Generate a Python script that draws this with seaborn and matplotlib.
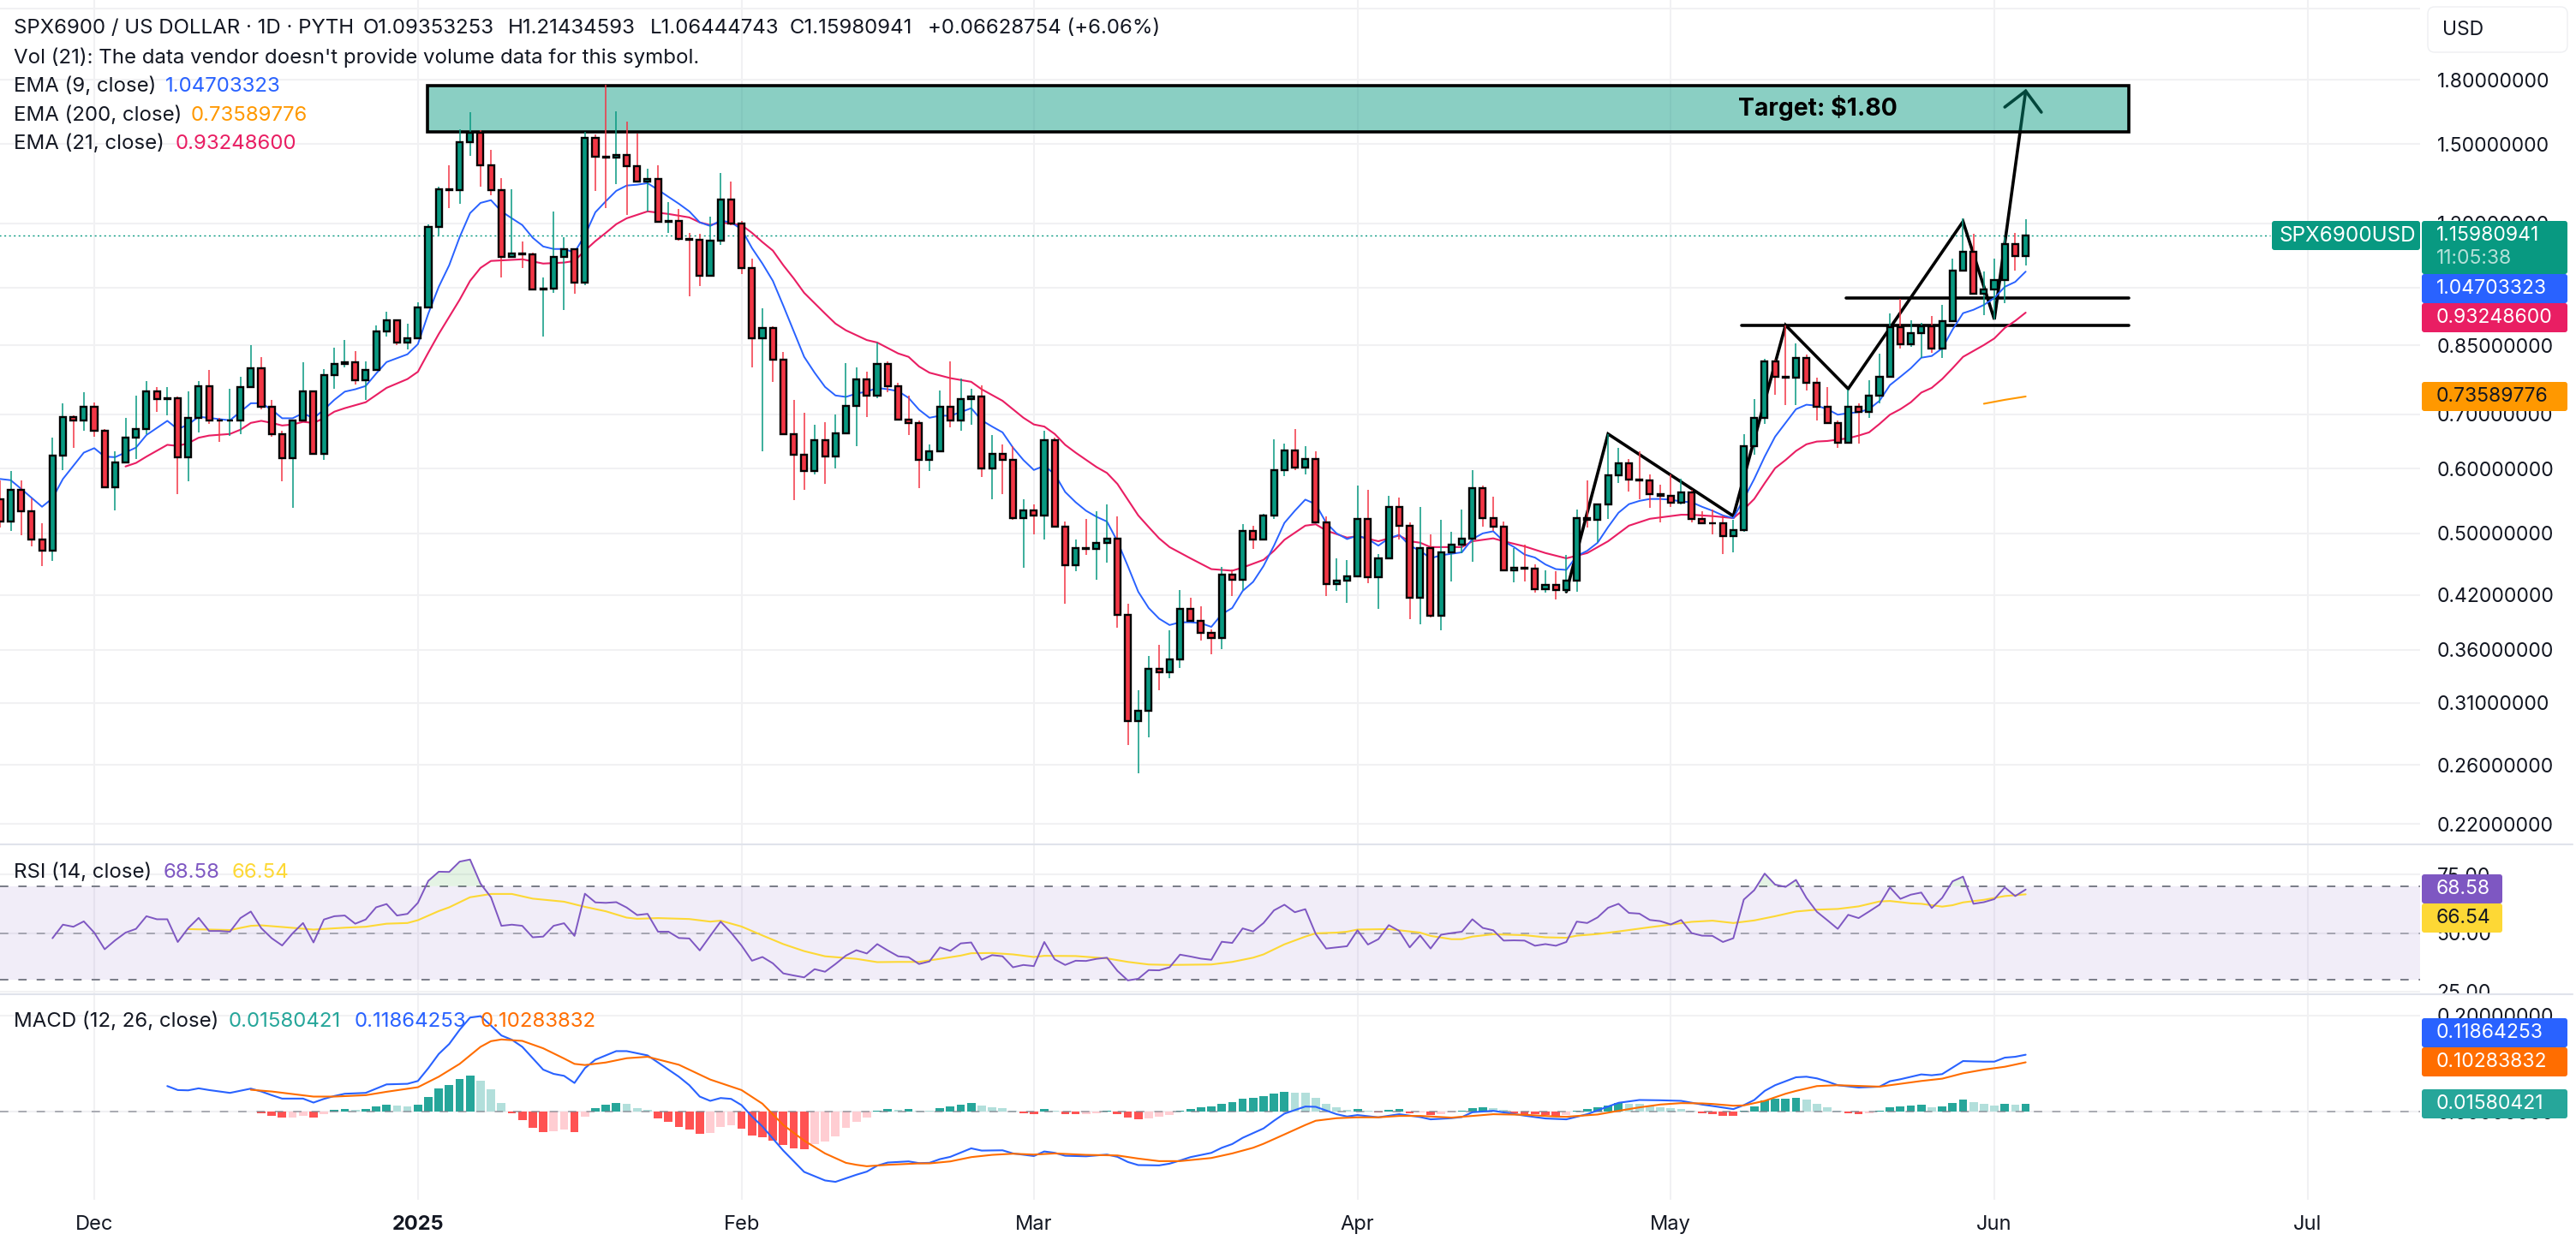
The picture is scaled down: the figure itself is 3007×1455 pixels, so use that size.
import numpy as np
import matplotlib
matplotlib.use("Agg")
import matplotlib.pyplot as plt
import matplotlib.transforms as mtransforms
from matplotlib.lines import Line2D
from matplotlib.patches import FancyBboxPatch, Rectangle
import seaborn as sns

# ---------------- DATA (x = days since 1 Dec 2024) ----------------
first_day = -9
first_open = 0.551
closes = [
    .517, .565, .532, .492, .476, .623, .695, .687, .714, .668,
    .569, .611, .655, .671, .746, .731, .733, .620, .693, .758,
    .688, .687, .688, .756, .797, .715, .662, .618, .688, .746,
    .626, .782, .807, .811, .771, .793, .885, .913, .857, .867,
    .946, 1.188, 1.322, 1.319, 1.509, 1.550, 1.414, 1.319, 1.092, 1.103,
    1.100, .996, .998, 1.092, 1.114, 1.015, 1.527, 1.449, 1.445, 1.456,
    1.410, 1.351, 1.360, 1.206, 1.209, 1.149, 1.146, 1.035, 1.143, 1.284,
    1.200, 1.058, .867, .893, .817, .662, .625, .596, .651, .622,
    .663, .717, .773, .738, .807, .758, .690, .683, .615, .631,
    .715, .688, .731, .735, .600, .626, .615, .522, .533, .526,
    .651, .509, .457, .480, .479, .487, .493, .397, .294, .303,
    .341, .338, .350, .404, .391, .378, .372, .445, .439, .503,
    .491, .526, .598, .632, .602, .617, .516, .433, .438, .443,
    .521, .442, .466, .539, .511, .417, .480, .396, .474, .484,
    .493, .568, .522, .510, .450, .454, .453, .427, .432, .426,
    .438, .522, .519, .543, .589, .610, .582, .580, .559, .556,
    .545, .561, .521, .515, .514, .496, .505, .640, .693, .813,
    .778, .776, .821, .764, .714, .683, .646, .715, .705, .737,
    .778, .896, .853, .880, .898, .843, .911, 1.050, 1.108, .984,
    .996, 1.023, 1.132, 1.0935, 1.1598,
]
highs = [
    .581, .596, .580, .552, .515, .655, .722, .697, .744, .724,
    .671, .631, .693, .737, .769, .756, .756, .735, .746, .769,
    .793, .693, .752, .778, .851, .823, .729, .668, .688, .811,
    .749, .795, .845, .864, .837, .813, .900, .935, .913, .904,
    .960, 1.197, 1.331, 1.414, 1.565, 1.642, 1.561, 1.477, 1.364, 1.322,
    1.141, 1.105, 1.030, 1.241, 1.154, 1.114, 1.554, 1.542, 1.774, 1.646,
    1.599, 1.546, 1.400, 1.414, 1.274, 1.250, 1.168, 1.165, 1.223, 1.383,
    1.351, 1.209, 1.087, .944, .898, .835, .729, .702, .680, .685,
    .700, .809, .799, .789, .857, .813, .765, .737, .687, .642,
    .749, .813, .774, .752, .760, .660, .643, .639, .551, .543,
    .668, .655, .517, .491, .521, .532, .543, .524, .410, .321,
    .354, .365, .380, .426, .417, .407, .381, .455, .451, .513,
    .511, .528, .652, .645, .671, .640, .631, .524, .466, .464,
    .572, .566, .472, .556, .553, .516, .539, .499, .520, .502,
    .535, .598, .572, .555, .517, .480, .484, .458, .450, .449,
    .470, .535, .580, .544, .662, .637, .617, .631, .591, .573,
    .590, .584, .565, .532, .535, .526, .519, .662, .731, .819,
    .817, .900, .855, .829, .776, .756, .688, .751, .722, .771,
    .831, .931, .969, .913, .906, .924, .953, 1.085, 1.218, 1.165,
    1.048, 1.087, 1.154, 1.168, 1.2143,
]
lows = [
    .508, .503, .497, .482, .456, .463, .598, .636, .668, .657,
    .569, .533, .610, .617, .662, .705, .697, .558, .579, .665,
    .681, .648, .659, .662, .758, .709, .657, .579, .538, .690,
    .626, .615, .752, .799, .762, .729, .795, .871, .851, .841,
    .869, .949, 1.160, 1.252, 1.269, 1.452, 1.331, 1.299, 1.030, 1.092,
    1.058, .996, .871, .986, .939, .984, 1.008, 1.315, 1.252, 1.341,
    1.229, 1.351, 1.241, 1.203, 1.168, 1.143, .976, 1.005, 1.033, 1.130,
    1.194, 1.040, .799, .631, .767, .662, .549, .566, .590, .575,
    .601, .665, .640, .695, .733, .744, .687, .660, .568, .596,
    .631, .675, .668, .680, .586, .550, .559, .519, .454, .499,
    .492, .509, .410, .449, .470, .439, .460, .383, .275, .254,
    .281, .321, .332, .342, .391, .369, .355, .361, .419, .426,
    .478, .490, .521, .587, .598, .591, .515, .419, .425, .411,
    .444, .434, .404, .467, .492, .392, .387, .394, .380, .437,
    .473, .461, .509, .503, .450, .435, .436, .423, .423, .415,
    .424, .424, .508, .488, .521, .576, .562, .551, .538, .516,
    .539, .542, .516, .513, .498, .472, .474, .502, .625, .681,
    .740, .719, .719, .749, .688, .683, .637, .646, .644, .693,
    .722, .780, .843, .847, .821, .833, .821, .913, 1.048, .984,
    .925, .915, .958, 1.050, 1.0644,
]

ema9_days = [
    -9, -8, -7, -5, -4, -3, -1, 0, 1, 2, 4, 5, 7, 8, 9, 10, 13, 15, 16, 17,
    18, 19, 20, 21, 22, 23, 24, 25, 26, 27, 28, 30, 31, 32, 33, 34, 35, 36, 37, 38,
    39, 40, 41, 42, 43, 44, 45, 46, 47, 48, 49, 50, 51, 52, 53, 54, 55, 56, 57, 58,
    59, 60, 61, 62, 63, 64, 65, 66, 67, 68, 69, 70, 71, 72, 73, 74, 75, 76, 77, 78,
    79, 80, 81, 82, 83, 84, 85, 86, 87, 88, 89, 90, 91, 92, 93, 94, 95, 96, 97, 98,
    99, 100, 101, 102, 103, 104, 105, 106, 107, 108, 109, 110, 111, 112, 113, 114, 115, 116, 117, 118,
    119, 120, 121, 122, 123, 124, 125, 126, 127, 128, 129, 130, 131, 132, 133, 134, 135, 136, 137, 138,
    139, 140, 141, 142, 143, 144, 145, 146, 147, 148, 149, 150, 151, 152, 153, 154, 155, 156, 157, 158,
    159, 160, 161, 162, 163, 164, 165, 166, 167, 168, 169, 170, 171, 172, 173, 174, 175, 176, 177, 178,
    179, 180, 181, 182, 183, 184, 185,
]
ema9_vals = [
    .583, .581, .567, .539, .552, .583, .628, .636, .621, .620, .637, .660, .687, .671, .680, .695, .688, .722, .722, .709,
    .692, .692, .702, .692, .709, .729, .746, .751, .758, .785, .811, .829, .853, .930, 1.003, 1.066, 1.154, 1.235, 1.271, 1.281,
    1.241, 1.217, 1.194, 1.152, 1.124, 1.116, 1.116, 1.105, 1.160, 1.238, 1.277, 1.315, 1.335, 1.338, 1.344, 1.319, 1.293, 1.268, 1.241, 1.203,
    1.191, 1.209, 1.203, 1.180, 1.119, 1.071, 1.020, .951, .885, .823, .787, .756, .738, .735, .742, .746, .754, .751, .747, .733,
    .709, .693, .697, .697, .704, .712, .688, .676, .665, .637, .615, .598, .605, .591, .562, .546, .533, .524, .517, .489,
    .456, .424, .405, .393, .386, .389, .389, .388, .384, .398, .405, .425, .436, .456, .483, .515, .533, .550, .543, .515,
    .500, .492, .497, .492, .483, .493, .498, .483, .476, .466, .470, .472, .474, .492, .500, .503, .489, .481, .471, .467,
    .458, .452, .451, .469, .476, .487, .509, .530, .543, .548, .551, .551, .550, .547, .546, .539, .533, .526, .522, .551,
    .583, .621, .657, .683, .710, .719, .717, .710, .699, .702, .704, .710, .727, .760, .778, .797, .821, .825, .843, .889,
    .931, .940, .953, .972, 1.003, 1.017, 1.047,
]
ema21_days = [
    3, 4, 5, 7, 8, 9, 10, 11, 13, 14, 15, 16, 17, 18, 19, 20, 21, 22, 23, 24,
    26, 28, 30, 31, 32, 33, 35, 36, 37, 38, 41, 43, 45, 46, 47, 48, 49, 50, 51, 53,
    55, 57, 58, 59, 60, 62, 63, 64, 65, 66, 67, 68, 70, 71, 72, 74, 75, 77, 78, 79,
    80, 82, 84, 85, 87, 89, 90, 91, 92, 93, 94, 96, 97, 98, 99, 100, 101, 102, 103, 105,
    107, 109, 110, 112, 113, 114, 116, 117, 118, 120, 121, 123, 125, 126, 127, 128, 131, 132, 134, 135,
    137, 139, 141, 143, 145, 147, 149, 152, 153, 155, 157, 158, 159, 160, 161, 162, 163, 164, 165, 166,
    168, 169, 170, 171, 172, 173, 174, 175, 176, 177, 178, 179, 180, 181, 182, 183, 184, 185,
]
ema21_vals = [
    .604, .610, .621, .642, .640, .645, .655, .659, .662, .670, .683, .687, .683, .678, .680, .685, .683, .692, .705, .712,
    .724, .754, .773, .789, .833, .878, .967, 1.020, 1.058, 1.079, 1.084, 1.071, 1.074, 1.079, 1.111, 1.141, 1.168, 1.197, 1.217, 1.241,
    1.232, 1.220, 1.203, 1.194, 1.203, 1.194, 1.168, 1.138, 1.111, 1.066, 1.027, .986, .930, .904, .887, .863, .857, .831, .823, .801,
    .787, .775, .767, .751, .727, .693, .680, .676, .662, .642, .628, .603, .593, .575, .550, .526, .509, .493, .481, .466,
    .452, .450, .454, .464, .476, .491, .511, .513, .504, .494, .496, .489, .497, .489, .487, .481, .481, .489, .493, .489,
    .482, .473, .466, .473, .489, .511, .521, .527, .527, .525, .522, .535, .551, .576, .601, .615, .631, .643, .648, .649,
    .654, .659, .665, .681, .699, .710, .724, .744, .754, .773, .797, .823, .837, .851, .867, .893, .911, .9325,
]
ema200_days = [181, 183, 185]
ema200_vals = [.721, .729, .7359]

rsi_first_day = -4
rsi_vals = [
    47.8, 53.6, 52.7, 55.0, 50.2, 43.1, 46.9, 50.2, 51.8, 57.2,
    55.9, 55.9, 46.2, 52.1, 56.5, 50.9, 50.9, 50.6, 56.4, 59.2,
    52.1, 47.8, 44.7, 49.9, 54.3, 46.0, 55.8, 57.2, 57.5, 54.0,
    55.8, 61.0, 62.4, 57.5, 58.2, 62.9, 72.3, 76.2, 76.1, 80.5,
    81.4, 71.1, 65.3, 53.1, 53.6, 53.1, 48.2, 48.5, 53.1, 54.2,
    48.8, 66.8, 63.1, 62.9, 63.2, 60.9, 57.7, 58.2, 50.6, 50.6,
    47.9, 47.7, 42.6, 48.8, 54.9, 50.2, 44.7, 38.2, 39.8, 37.1,
    32.8, 31.9, 31.1, 34.6, 33.5, 36.8, 40.4, 42.7, 41.3, 45.3,
    42.6, 40.1, 39.7, 36.8, 37.9, 43.9, 42.4, 45.6, 46.0, 38.6,
    40.6, 40.1, 35.4, 36.4, 35.9, 46.2, 38.8, 36.4, 38.2, 38.1,
    39.0, 39.5, 33.9, 29.8, 30.5, 34.2, 34.1, 35.4, 40.8, 40.0,
    39.1, 38.6, 46.3, 45.8, 52.0, 50.7, 54.3, 59.7, 62.1, 58.9,
    60.2, 49.6, 43.4, 43.9, 44.4, 51.2, 45.1, 47.4, 53.4, 50.9,
    43.9, 49.0, 43.4, 49.3, 50.0, 50.6, 55.9, 52.2, 51.2, 46.8,
    46.9, 46.8, 44.6, 45.3, 44.6, 46.2, 54.9, 54.3, 56.7, 60.8,
    62.5, 58.6, 58.3, 55.6, 55.1, 53.7, 55.6, 50.0, 48.9, 48.8,
    46.2, 47.8, 64.3, 68.3, 75.4, 70.7, 69.7, 72.7, 65.0, 59.1,
    55.5, 51.8, 57.8, 56.4, 59.2, 62.1, 69.5, 64.6, 66.4, 67.3,
    60.7, 65.0, 72.1, 74.1, 62.5, 63.2, 64.5, 69.5, 65.8, 68.58,
]
rsi_ma_days = [
    9, 11, 13, 15, 16, 18, 21, 24, 26, 28, 30, 31, 33, 34, 36, 38, 40, 42, 45, 47,
    49, 51, 52, 54, 57, 59, 60, 62, 64, 66, 68, 70, 73, 75, 77, 79, 81, 83, 84, 86,
    88, 90, 91, 94, 97, 99, 101, 103, 105, 107, 109, 111, 112, 114, 116, 117, 119, 120, 121, 124,
    127, 128, 130, 131, 132, 134, 137, 139, 141, 142, 144, 146, 149, 152, 153, 155, 157, 159, 161, 163,
    165, 167, 169, 171, 172, 174, 175, 177, 178, 179, 181, 183, 185,
]
rsi_ma_vals = [
    51.7, 51.5, 51.3, 53.1, 53.3, 52.6, 51.5, 52.3, 52.7, 54.0, 54.3, 55.5, 59.4, 61.0, 65.3, 66.7, 66.7, 64.7, 63.4, 61.2,
    59.3, 56.6, 56.1, 56.4, 56.0, 54.9, 55.3, 52.8, 49.0, 45.3, 42.3, 40.1, 39.0, 37.6, 37.7, 37.7, 39.0, 40.4, 41.4, 41.5,
    40.9, 39.8, 40.3, 40.2, 39.2, 37.7, 36.6, 36.4, 36.5, 36.6, 37.7, 39.5, 40.9, 45.2, 48.5, 49.9, 50.2, 50.6, 51.5, 51.7,
    50.2, 48.8, 47.4, 47.4, 48.5, 49.5, 49.1, 48.2, 48.0, 48.9, 49.6, 50.7, 52.5, 54.2, 54.8, 55.3, 54.3, 55.4, 57.2, 59.2,
    60.0, 60.3, 61.4, 63.5, 63.7, 62.7, 62.5, 61.3, 61.9, 63.1, 64.2, 65.8, 66.54,
]

macd_days = [
    7, 8, 9, 10, 11, 13, 15, 16, 17, 18, 20, 21, 22, 23, 24, 26, 28, 30, 31, 32,
    33, 34, 35, 36, 37, 38, 39, 40, 41, 42, 43, 44, 45, 46, 47, 48, 50, 51, 53, 54,
    56, 57, 58, 59, 60, 61, 62, 63, 64, 66, 68, 70, 71, 73, 74, 75, 76, 78, 79, 80,
    81, 82, 83, 84, 85, 87, 88, 90, 91, 92, 93, 95, 97, 98, 99, 100, 102, 103, 104, 105,
    107, 108, 109, 110, 112, 113, 114, 116, 117, 119, 120, 121, 123, 125, 127, 128, 130, 131, 132, 134,
    137, 139, 141, 143, 145, 146, 148, 150, 152, 154, 155, 157, 158, 159, 160, 161, 163, 164, 165, 166,
    167, 169, 171, 172, 173, 175, 176, 177, 178, 179, 181, 182, 183, 184, 185,
]
macd_vals = [
    .0533, .0450, .0444, .0486, .0450, .0391, .0480, .0420, .0343, .0272, .0272, .0189, .0266, .0326, .0373, .0391, .0568, .0580, .0639, .0906,
    .1202, .1409, .1705, .1960, .1989, .1794, .1587, .1498, .1350, .1113, .0876, .0787, .0746, .0598, .0906, .1083, .1261, .1261, .1172, .1024,
    .0728, .0551, .0314, .0225, .0284, .0266, .0136, -.0101, -.0308, -.0811, -.1255, -.1433, -.1462, -.1314, -.1249, -.1125, -.1060, -.1036, -.1072, -.1066,
    -.0989, -.0941, -.0853, -.0764, -.0811, -.0805, -.0870, -.0924, -.0829, -.0858, -.0918, -.0930, -.0894, -.0941, -.1048, -.1113, -.1119, -.1083, -.1018, -.0947,
    -.0858, -.0752, -.0675, -.0545, -.0349, -.0189, -.0041, .0107, .0101, -.0053, -.0101, -.0071, -.0118, -.0053, -.0112, -.0160, -.0136, -.0112, -.0012, .0018,
    -.0083, -.0142, -.0160, -.0053, .0107, .0184, .0243, .0237, .0225, .0148, .0118, .0053, .0136, .0243, .0432, .0551, .0716, .0728, .0693, .0628,
    .0551, .0503, .0521, .0634, .0675, .0776, .0758, .0782, .0918, .1054, .1042, .1042, .1125, .1143, .1186,
]
signal_days = [
    15, 17, 19, 21, 23, 26, 28, 31, 33, 35, 37, 38, 39, 41, 43, 45, 46, 47, 49, 51,
    53, 56, 59, 62, 64, 66, 68, 70, 72, 73, 74, 76, 79, 80, 82, 84, 86, 88, 90, 92,
    95, 98, 100, 102, 104, 107, 109, 111, 112, 114, 116, 117, 119, 121, 123, 125, 127, 130, 132, 134,
    137, 140, 141, 144, 146, 148, 150, 152, 154, 155, 157, 158, 160, 162, 163, 165, 167, 171, 173, 175,
    177, 179, 181, 183, 185,
]
signal_vals = [
    .0456, .0420, .0367, .0314, .0314, .0343, .0414, .0509, .0728, .0995, .1350, .1468, .1504, .1474, .1320, .1107, .0995, .0971, .1024, .1113,
    .1143, .0977, .0669, .0450, .0166, -.0278, -.0604, -.0870, -.1066, -.1107, -.1137, -.1107, -.1078, -.1078, -.1036, -.0947, -.0900, -.0876, -.0894, -.0870,
    -.0900, -.0912, -.0977, -.1030, -.1030, -.0965, -.0870, -.0752, -.0669, -.0474, -.0278, -.0189, -.0136, -.0118, -.0118, -.0089, -.0089, -.0124, -.0089, -.0053,
    -.0065, -.0101, -.0107, -.0059, .0018, .0089, .0148, .0178, .0172, .0160, .0124, .0130, .0225, .0373, .0432, .0533, .0551, .0521, .0580, .0639,
    .0687, .0799, .0876, .0935, .1028,
]
hist_first_day = 16
hist_vals = [
    -.004, -.008, -.013, -.013, -.008, -.013, -.006, .003, .006, .004,
    .006, .011, .015, .013, .011, .015, .031, .049, .056, .068,
    .075, .065, .047, .018, -.003, -.017, -.033, -.042, -.040, -.038,
    -.042, -.010, .008, .015, .018, .017, .008, .004, -.014, -.022,
    -.031, -.038, -.047, -.044, -.031, -.028, -.035, -.049, -.054, -.060,
    -.070, -.076, -.078, -.067, -.062, -.051, -.034, -.022, -.013, .002,
    .0050, .0045, .0050, .002, .002, .008, .011, .015, .018, .013,
    .009, .008, .002, -.003, -.005, .006, .002, -.005, -.0055, -.005,
    -.003, .002, -.005, -.012, -.016, -.014, -.010, -.007, .002, .006,
    .009, .011, .017, .020, .027, .029, .033, .038, .041, .040,
    .039, .029, .017, .009, .004, .006, .002, -.001, .004, .006,
    -.003, -.001, -.007, -.005, -.001, .002, .008, .009, .008, .004,
    -.003, -.005, -.0055, -.007, -.008, -.0075, .002, .006, .009, .013,
    .018, .017, .016, .011, .009, .008, .006, .002, -.003, -.005,
    -.008, -.0085, .002, .011, .024, .027, .0275, .029, .025, .017,
    .009, .002, -.003, -.005, -.004, .002, .009, .011, .013, .015,
    .009, .011, .018, .025, .020, .017, .013, .017, .015, .0158,
]

# hand drawn pattern on the chart
zigzag_days = [141, 145, 157, 162, 168, 179, 182, 185]
zigzag_prices = [.424, .662, .525, .900, .752, 1.206, .915, 1.743]
arrow_days = [183, 185, 186.5]
arrow_prices = [1.666, 1.743, 1.642]
level_prices = [.972, .900]
level_starts = [167.8, 157.8]
zone_days = [31.9, 194.9]
zone_prices = [1.553, 1.770]

price_ticks = [2.2, 1.8, 1.5, 1.2, 1.0, .85, .7, .6, .5, .42, .36, .31, .26, .22]
rsi_ticks = [75, 50, 25]
macd_ticks = [.2, 0]
month_days = [0, 31, 62, 90, 121, 151, 182, 212]
month_names = ["Dec", "2025", "Feb", "Mar", "Apr", "May", "Jun", "Jul"]

# ---------------- STYLE ----------------
W, H = 3007, 1455
PLOT_RIGHT = 2825
PX_PER_DAY = 12.187
GREEN, RED = "#089981", "#f23645"
INK = "#131722"
GRID = "#f1f1f3"
FS = 16.5
LEGEND_FS = 17.3

sns.set_theme(style="white")
plt.rcParams["font.family"] = ["Inter", "DejaVu Sans"]


def panel(top, bottom):
    ax = fig.add_axes([0, 1 - bottom / H, PLOT_RIGHT / W, (bottom - top) / H])
    ax.set_xlim(-110 / PX_PER_DAY, (PLOT_RIGHT - 110) / PX_PER_DAY)
    sns.despine(ax=ax, left=True, bottom=True, right=True, top=True)
    ax.set_xticks(month_days)
    ax.yaxis.tick_right()
    ax.tick_params(axis="both", length=0, labelsize=FS, labelcolor=INK)
    ax.tick_params(axis="x", labelbottom=False, pad=13, labelsize=17)
    ax.tick_params(axis="y", pad=14)
    ax.grid(True, color=GRID, lw=1.5)
    ax.set_axisbelow(True)
    return ax


def line(ax, x, y, color, lw, z=2.5):
    sns.lineplot(x=x, y=y, ax=ax, color=color, linewidth=lw, estimator=None,
                 sort=False, legend=False, zorder=z)


def ptext(x, y, s, color=INK, **kw):
    kw.setdefault("fontsize", LEGEND_FS)
    fig.text(x / W, 1 - y / H, s, color=color, va="center", ha=kw.pop("ha", "left"), **kw)


def tag(x0, x1, y0, y1, color, s, text_color="white", inset=17, fontsize=FS):
    fig.add_artist(FancyBboxPatch((x0, H - y1), x1 - x0, y1 - y0,
                                  boxstyle="round,pad=0,rounding_size=3", mutation_scale=1,
                                  fc=color, ec="none", transform=mtransforms.IdentityTransform()))
    ptext(x0 + inset, (y0 + y1) / 2, s, text_color, fontsize=fontsize)


fig = plt.figure(figsize=(W / 100, H / 100), dpi=100, facecolor="white")

# ---------------- PRICE PANEL ----------------
ax = panel(0, 986)
ax.set_yscale("log")
ax.set_ylim(0.2078, 2.254)
ax.set_yticks(price_ticks)
# the 2.2 gridline has no visible label, it sits under the currency button
ax.set_yticklabels(["" if t == 2.2 else f"{t:.8f}" for t in price_ticks])
ax.minorticks_off()

days = np.arange(first_day, first_day + len(closes))
c = np.array(closes)
o = np.array([first_open] + closes[:-1])
candle_colors = [GREEN if b >= a else RED for a, b in zip(o, c)]

ax.hlines(closes[-1], days[0] - 1, 208.4, color=GREEN, lw=1.0, linestyles=(0, (1.5, 2.5)), zorder=1)

# drawings sit under the candles, the zone tints the arrow that runs through it
ax.plot(zigzag_days, zigzag_prices, color="black", lw=2.6, solid_joinstyle="miter", zorder=1.1)
ax.plot(arrow_days, arrow_prices, color="black", lw=2.6, solid_joinstyle="miter", zorder=1.1)
for p, start in zip(level_prices, level_starts):
    ax.hlines(p, start, zone_days[1], color="black", lw=2.6, capstyle="round", zorder=1.1)
ax.add_patch(Rectangle((zone_days[0], zone_prices[0]), zone_days[1] - zone_days[0],
                       zone_prices[1] - zone_prices[0],
                       facecolor=(8 / 255, 153 / 255, 129 / 255, 0.47),
                       edgecolor="black", lw=2.6, zorder=1.2))
ax.text(165.1, 1.662, "Target: $1.80", color="black", fontsize=20.4, fontweight="bold",
        ha="center", va="center", zorder=1.3)

line(ax, ema21_days, ema21_vals, "#e91e63", 1.5)
line(ax, ema9_days, ema9_vals, "#2962ff", 1.4)
line(ax, ema200_days, ema200_vals, "#ff9800", 1.5)

ax.vlines(days, lows, highs, colors=candle_colors, lw=1.1, zorder=2.7)
ax.bar(days, np.abs(c - o), bottom=np.minimum(c, o), width=0.58, color=candle_colors,
       edgecolor="black", linewidth=1.7, zorder=3)

ax.set_xlim(-110 / PX_PER_DAY, (PLOT_RIGHT - 110) / PX_PER_DAY)

# ---------------- RSI PANEL ----------------
ax_rsi = panel(987, 1161)
ax_rsi.set_ylim(23.9, 87.5)
ax_rsi.set_yticks(rsi_ticks)
ax_rsi.set_yticklabels([f"{t:.2f}" for t in rsi_ticks])
ax_rsi.axhspan(30, 70, color="#7e57c2", alpha=0.1, lw=0, zorder=1)
for level, a in [(70, 1.0), (50, 0.6), (30, 1.0)]:
    ax_rsi.axhline(level, color="#787b86", alpha=a, lw=1.4, linestyle=(0, (5, 6)), zorder=1.2)

rsi_x = np.arange(rsi_first_day, rsi_first_day + len(rsi_vals))
rsi = np.array(rsi_vals)
ax_rsi.fill_between(rsi_x, 70, rsi, where=rsi > 70, interpolate=True, color="#4caf50", alpha=0.15, lw=0, zorder=1.5)
line(ax_rsi, rsi_ma_days, rsi_ma_vals, "#fdd835", 1.5)
line(ax_rsi, rsi_x, rsi_vals, "#7e57c2", 1.4, z=2.6)

# ---------------- MACD PANEL ----------------
ax_macd = panel(1162, 1401)
ax_macd.set_ylim(-0.1835, 0.2428)
ax_macd.set_yticks(macd_ticks)
ax_macd.set_yticklabels([f"{t:.8f}" for t in macd_ticks])
ax_macd.tick_params(axis="x", labelbottom=True)
ax_macd.set_xticklabels(month_names)
ax_macd.get_xticklabels()[1].set_fontweight("bold")

hist = np.array(hist_vals)
hist_x = np.arange(hist_first_day, hist_first_day + len(hist))
prev = np.r_[0.0, hist[:-1]]
hist_colors = ["#26a69a" if h >= 0 and h > p else "#b2dfdb" if h >= 0
               else "#ff5252" if h < p else "#ffcdd2" for h, p in zip(hist, prev)]
ax_macd.bar(hist_x, hist, width=0.8, color=hist_colors, lw=0, zorder=1.5)
ax_macd.axhline(0, color="#787b86", alpha=0.6, lw=1.4, linestyle=(0, (5, 6)), zorder=1.8)
line(ax_macd, macd_days, macd_vals, "#2962ff", 1.5)
line(ax_macd, signal_days, signal_vals, "#ff6d00", 1.5, z=2.6)

# ---------------- LEGENDS ----------------
ptext(16, 33, "SPX6900 / US DOLLAR · 1D · PYTH")
ptext(424, 33, "O1.09353253")
ptext(593, 33, "H1.21434593")
ptext(759, 33, "L1.06444743")
ptext(922, 33, "C1.15980941")
ptext(1083, 33, "+0.06628754 (+6.06%)")
ptext(16, 67, "Vol (21): The data vendor doesn't provide volume data for this symbol.")
ptext(16, 101, "EMA (9, close)")
ptext(193, 101, "1.04703323", "#2962ff")
ptext(16, 135, "EMA (200, close)")
ptext(223, 135, "0.73589776", "#ff9800")
ptext(16, 168, "EMA (21, close)")
ptext(205, 168, "0.93248600", "#e91e63")
ptext(16, 1019, "RSI (14, close)")
ptext(191, 1019, "68.58", "#7e57c2")
ptext(271, 1019, "66.54", "#fdd835")
ptext(16, 1193, "MACD (12, 26, close)")
ptext(267, 1193, "0.01580421", "#26a69a")
ptext(414, 1193, "0.11864253", "#2962ff")
ptext(561, 1193, "0.10283832", "#ff6d00")

# ---------------- RIGHT SCALE ----------------
fig.add_artist(Rectangle((PLOT_RIGHT + 1, H - 1172), W - PLOT_RIGHT, 11, fc="white", ec="none",
                         transform=mtransforms.IdentityTransform()))
for y in (986, 1161):
    fig.add_artist(Line2D([0, 3003 / W], [1 - y / H] * 2, color="#e0e3eb", lw=1.5))

fig.add_artist(FancyBboxPatch((2834, H - 61), 163, 53, boxstyle="round,pad=0,rounding_size=8", mutation_scale=1,
                              fc="white", ec="#eeeff2", lw=1, transform=mtransforms.IdentityTransform()))
ptext(2851, 35, "USD", fontsize=FS)

tag(2652, 2825, 258, 292, GREEN, "SPX6900USD", inset=9, fontsize=17.5)
tag(2827, 2997, 258, 320, GREEN, "")
ptext(2844, 275, "1.15980941", "white", fontsize=FS)
ptext(2844, 302, "11:05:38", "#b5e0d8", fontsize=FS)
tag(2827, 2997, 320, 354, "#2962ff", "1.04703323")
tag(2827, 2997, 354, 388, "#e91e63", "0.93248600")
tag(2827, 2997, 446, 480, "#ff9800", "0.73589776", INK)
tag(2827, 2921, 1021, 1055, "#7e57c2", "68.58")
tag(2827, 2921, 1055, 1089, "#fdd835", "66.54", INK)
tag(2827, 2997, 1189, 1223, "#2962ff", "0.11864253")
tag(2827, 2997, 1223, 1257, "#ff6d00", "0.10283832")
tag(2827, 2997, 1272, 1306, "#26a69a", "0.01580421")

fig.savefig("out.png", dpi=100)
